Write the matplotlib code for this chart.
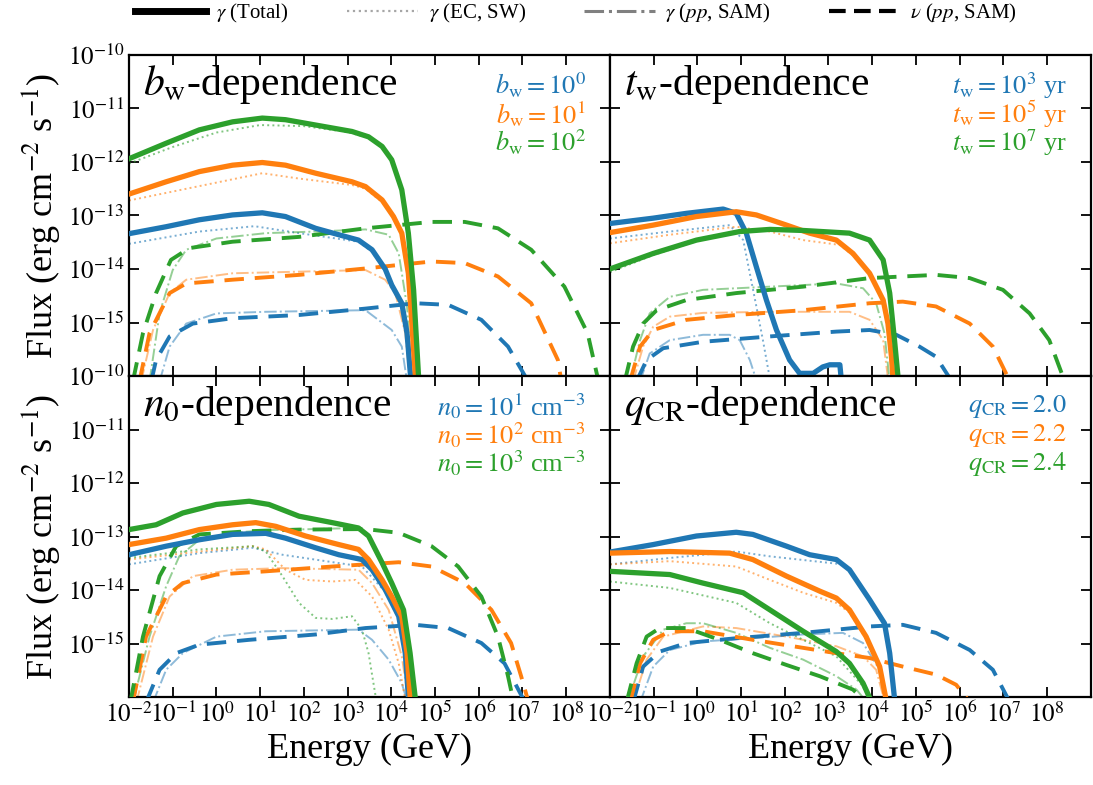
import numpy as np
import matplotlib
matplotlib.use("Agg")
import matplotlib.pyplot as plt
from matplotlib.lines import Line2D

plt.rcParams['font.family'] = ['Liberation Serif', 'DejaVu Serif']
plt.rcParams['mathtext.fontset'] = 'stix'

# curves stored as (log10 E [GeV], log10 flux [erg cm^-2 s^-1]); order: blue, orange, green
# ---- b_w panel
bw_total = [
    [(-2.0, -13.34), (-1.15, -13.21), (-0.39, -13.08), (0.37, -12.99), (1.05, -12.95), (1.58, -13.02), (2.27, -13.24), (2.8, -13.36), (3.25, -13.46), (3.56, -13.64), (3.86, -14.0), (4.01, -14.3), (4.24, -14.64), (4.36, -15.2), (4.45, -16.1)],
    [(-2.0, -12.6), (-1.15, -12.37), (-0.39, -12.18), (0.37, -12.06), (1.05, -12.01), (1.58, -12.06), (2.27, -12.21), (3.1, -12.37), (3.41, -12.46), (3.79, -12.71), (4.05, -13.02), (4.24, -13.33), (4.39, -14.08), (4.47, -15.02), (4.56, -16.1)],
    [(-2.0, -11.94), (-1.15, -11.65), (-0.39, -11.4), (0.37, -11.25), (1.05, -11.18), (1.58, -11.21), (2.27, -11.31), (3.1, -11.43), (3.48, -11.53), (3.79, -11.71), (4.01, -11.96), (4.24, -12.52), (4.39, -13.33), (4.51, -14.39), (4.63, -16.1)],
]
bw_ec = [
    [(-2.0, -13.53), (-0.39, -13.3), (0.87, -13.2), (1.89, -13.33), (3.25, -13.49), (3.56, -13.68), (3.86, -14.05), (4.24, -14.7), (4.36, -15.3), (4.44, -16.1)],
    [(-2.0, -12.72), (1.05, -12.21), (1.89, -12.31), (3.1, -12.43), (3.41, -12.5), (3.79, -12.75), (4.05, -13.05), (4.24, -13.36), (4.39, -14.1), (4.47, -15.05), (4.56, -16.1)],
    [(-2.0, -12.03), (-1.0, -11.72), (0.0, -11.45), (1.0, -11.31), (2.0, -11.33), (3.0, -11.44), (3.48, -11.55), (3.79, -11.73), (4.01, -11.98), (4.24, -12.55), (4.39, -13.36), (4.51, -14.42), (4.62, -16.1)],
]
bw_pp = [
    [(-1.3, -16.1), (-1.07, -15.45), (-0.69, -15.02), (0.0, -14.83), (1.13, -14.8), (3.41, -14.77), (4.01, -15.14), (4.24, -15.45), (4.36, -16.1)],
    [(-1.72, -16.1), (-1.45, -15.14), (-1.07, -14.45), (-0.69, -14.2), (0.37, -14.08), (1.89, -14.05), (3.41, -14.02), (3.86, -14.2), (4.09, -14.45), (4.32, -15.2), (4.43, -16.1)],
    [(-1.53, -16.1), (-1.3, -14.83), (-1.0, -14.02), (-0.69, -13.64), (0.0, -13.43), (1.13, -13.33), (2.27, -13.3), (3.41, -13.26), (3.94, -13.36), (4.17, -13.71), (4.36, -14.7), (4.47, -16.1)],
]
bw_nu = [
    [(-1.49, -16.1), (-1.38, -15.7), (-1.07, -15.26), (-0.54, -15.02), (0.37, -14.92), (1.89, -14.86), (3.41, -14.74), (4.55, -14.64), (5.3, -14.67), (6.06, -14.95), (6.67, -15.45), (7.13, -16.1)],
    [(-1.76, -16.1), (-1.53, -15.2), (-1.07, -14.45), (-0.69, -14.27), (0.37, -14.2), (1.89, -14.11), (3.41, -13.99), (4.92, -13.86), (5.68, -13.89), (6.44, -14.14), (7.2, -14.64), (7.81, -15.7), (7.89, -16.1)],
    [(-1.91, -16.1), (-1.68, -15.2), (-1.38, -14.45), (-1.04, -13.83), (-0.62, -13.61), (0.37, -13.49), (1.89, -13.4), (3.41, -13.24), (4.92, -13.12), (5.68, -13.12), (6.44, -13.24), (7.2, -13.64), (7.96, -14.33), (8.49, -15.2), (8.74, -16.1)],
]

# ---- t_w panel
tw_total = [
    [(-2.0, -13.15), (-1.01, -13.05), (-0.25, -12.96), (0.59, -12.88), (0.89, -12.96), (1.12, -13.33), (1.35, -13.96), (1.58, -14.58), (1.81, -15.14), (2.11, -15.7), (2.34, -15.95), (2.65, -15.95), (2.87, -15.83), (3.03, -15.79), (3.26, -15.79), (3.32, -16.3)],
    [(-2.0, -13.32), (-1.01, -13.18), (-0.02, -13.02), (0.89, -12.93), (1.35, -12.99), (2.04, -13.18), (2.57, -13.33), (3.18, -13.46), (3.56, -13.71), (3.94, -14.08), (4.25, -14.58), (4.36, -15.02), (4.44, -15.64), (4.48, -16.1)],
    [(-2.0, -14.0), (-1.01, -13.71), (-0.02, -13.46), (0.97, -13.3), (1.66, -13.26), (2.42, -13.28), (3.48, -13.33), (3.94, -13.46), (4.25, -13.83), (4.4, -14.45), (4.51, -15.33), (4.6, -16.1)],
]
tw_ec = [
    [(-2.0, -13.43), (-0.63, -13.3), (0.74, -13.18), (1.05, -13.46), (1.2, -14.08), (1.35, -14.7), (1.5, -15.33), (1.67, -16.1)],
    [(-2.0, -13.52), (-0.63, -13.36), (0.89, -13.21), (1.66, -13.3), (2.42, -13.46), (3.26, -13.55), (3.56, -13.75), (3.94, -14.1), (4.25, -14.6), (4.36, -15.05), (4.44, -15.66), (4.48, -16.1)],
    [(-2.0, -14.06), (-1.01, -13.74), (-0.02, -13.48), (0.97, -13.31), (1.66, -13.27), (2.42, -13.29), (3.48, -13.34), (3.94, -13.47), (4.25, -13.84), (4.4, -14.46), (4.51, -15.34), (4.6, -16.1)],
]
tw_pp = [
    [(-1.31, -16.1), (-1.09, -15.58), (-0.63, -15.33), (0.13, -15.23), (0.74, -15.23), (0.97, -15.33), (1.2, -15.7), (1.36, -16.1)],
    [(-1.47, -16.1), (-1.24, -15.45), (-1.01, -15.08), (-0.63, -14.89), (0.13, -14.82), (1.66, -14.8), (3.48, -14.8), (3.94, -14.95), (4.25, -15.33), (4.37, -16.1)],
    [(-1.54, -16.1), (-1.31, -15.33), (-1.09, -14.83), (-0.63, -14.52), (0.13, -14.39), (1.66, -14.33), (3.18, -14.27), (3.79, -14.36), (4.09, -14.64), (4.28, -15.2), (4.4, -16.1)],
]
tw_nu = [
    [(-1.39, -16.1), (-1.16, -15.7), (-0.78, -15.48), (0.13, -15.36), (1.66, -15.26), (3.18, -15.17), (3.94, -15.14), (4.55, -15.23), (5.08, -15.45), (5.46, -15.64), (5.82, -16.1)],
    [(-1.54, -16.1), (-1.31, -15.45), (-1.01, -15.14), (-0.25, -14.95), (0.89, -14.86), (2.42, -14.77), (3.94, -14.64), (4.7, -14.61), (5.46, -14.7), (6.23, -15.02), (6.76, -15.45), (7.15, -16.1)],
    [(-1.66, -16.1), (-1.47, -15.45), (-1.24, -15.02), (-0.93, -14.77), (-0.25, -14.58), (0.89, -14.45), (2.42, -14.33), (3.94, -14.17), (5.46, -14.11), (6.23, -14.17), (6.99, -14.39), (7.6, -14.83), (8.05, -15.33), (8.38, -16.05)],
]

# ---- n_0 panel
n0_total = [
    [(-2.0, -13.34), (-1.15, -13.18), (-0.39, -13.06), (0.37, -12.96), (1.13, -12.94), (1.58, -13.03), (2.27, -13.21), (2.8, -13.34), (3.33, -13.43), (3.56, -13.62), (3.86, -13.99), (4.17, -14.49), (4.32, -15.18), (4.4, -16.1)],
    [(-2.0, -13.15), (-1.15, -13.03), (-0.39, -12.87), (0.37, -12.78), (0.9, -12.74), (1.36, -12.81), (2.04, -12.99), (2.8, -13.15), (3.25, -13.24), (3.48, -13.43), (3.79, -13.81), (4.01, -14.12), (4.24, -14.49), (4.36, -15.18), (4.44, -16.1)],
    [(-2.0, -12.87), (-1.38, -12.78), (-0.77, -12.56), (0.0, -12.4), (0.75, -12.34), (1.2, -12.4), (1.89, -12.62), (2.65, -12.74), (3.25, -12.84), (3.48, -12.99), (3.79, -13.49), (4.01, -13.87), (4.28, -14.37), (4.43, -15.18), (4.56, -16.1)],
]
n0_ec = [
    [(-2.0, -13.52), (-0.39, -13.31), (0.83, -13.21), (1.51, -13.34), (3.33, -13.56), (3.86, -14.03), (4.17, -14.55), (4.32, -15.3), (4.39, -16.1)],
    [(-2.0, -13.43), (-0.39, -13.28), (0.83, -13.18), (1.13, -13.24), (1.58, -13.62), (2.04, -13.81), (2.65, -13.84), (3.18, -13.81), (3.56, -14.12), (3.94, -14.74), (4.17, -15.37), (4.33, -16.1)],
    [(-2.0, -13.4), (-0.39, -13.24), (0.83, -13.18), (1.13, -13.28), (1.51, -13.74), (1.89, -14.24), (2.27, -14.52), (2.65, -14.54), (3.1, -14.49), (3.33, -14.74), (3.48, -15.18), (3.63, -15.93), (3.67, -16.1)],
]
n0_pp = [
    [(-1.45, -16.1), (-1.15, -15.49), (-0.77, -15.18), (0.0, -14.87), (1.13, -14.77), (3.25, -14.74), (3.56, -14.93), (3.94, -15.3), (4.24, -15.74), (4.37, -16.1)],
    [(-1.83, -16.1), (-1.45, -14.87), (-1.07, -14.12), (-0.54, -13.74), (0.37, -13.62), (1.51, -13.59), (3.25, -13.62), (3.56, -13.87), (3.94, -14.37), (4.24, -15.24), (4.4, -16.1)],
    [(-1.91, -16.1), (-1.53, -14.87), (-1.15, -13.93), (-0.85, -13.37), (-0.39, -13.06), (0.37, -12.93), (1.13, -12.88), (2.27, -12.86), (3.18, -12.84), (3.48, -12.99), (3.79, -13.5), (4.17, -14.24), (4.39, -15.49), (4.52, -16.1)],
]
n0_nu = [
    [(-1.61, -16.1), (-1.3, -15.49), (-0.92, -15.18), (-0.39, -15.02), (0.75, -14.93), (2.27, -14.83), (3.41, -14.71), (4.55, -14.65), (5.3, -14.71), (6.06, -14.99), (6.59, -15.37), (7.06, -16.1)],
    [(-1.91, -16.1), (-1.61, -14.87), (-1.15, -14.12), (-0.77, -13.87), (0.0, -13.71), (1.13, -13.65), (2.65, -13.56), (4.17, -13.48), (4.92, -13.56), (5.68, -13.87), (6.29, -14.37), (6.74, -14.99), (6.97, -15.61), (7.14, -16.1)],
    [(-1.97, -16.1), (-1.68, -14.87), (-1.3, -13.74), (-0.92, -13.18), (-0.39, -12.96), (0.75, -12.9), (1.89, -12.87), (3.41, -12.86), (4.17, -12.93), (4.92, -13.18), (5.53, -13.56), (6.06, -14.12), (6.44, -14.87), (6.67, -15.61), (6.8, -16.1)],
]

# ---- q_CR panel
q_total = [
    [(-2.0, -13.29), (-1.01, -13.15), (-0.02, -12.99), (0.89, -12.92), (1.27, -12.96), (2.04, -13.18), (2.57, -13.34), (3.18, -13.43), (3.48, -13.62), (3.94, -14.18), (4.28, -14.62), (4.4, -15.18), (4.52, -16.1)],
    [(-2.0, -13.31), (-0.63, -13.28), (0.74, -13.31), (1.27, -13.43), (2.04, -13.74), (2.8, -14.02), (3.18, -14.15), (3.48, -14.37), (3.86, -14.87), (4.17, -15.43), (4.33, -16.1)],
    [(-2.0, -13.65), (-0.63, -13.71), (0.13, -13.87), (1.05, -14.05), (1.66, -14.37), (2.42, -14.77), (3.18, -15.15), (3.48, -15.37), (3.79, -15.74), (3.99, -16.1)],
]
q_ec = [
    [(-2.0, -13.52), (-0.63, -13.4), (0.89, -13.28), (1.66, -13.37), (3.33, -13.52), (3.56, -13.7), (3.94, -14.22), (4.28, -14.66), (4.4, -15.22), (4.51, -16.1)],
    [(-2.0, -13.52), (-0.63, -13.46), (0.89, -13.56), (1.66, -13.81), (2.42, -14.05), (3.18, -14.24), (3.48, -14.42), (3.86, -14.92), (4.17, -15.47), (4.32, -16.1)],
    [(-2.0, -13.84), (-0.63, -13.96), (0.89, -14.24), (1.66, -14.62), (2.42, -14.93), (3.18, -15.24), (3.79, -15.8), (3.95, -16.1)],
]
q_pp = [
    [(-1.31, -16.1), (-1.01, -15.43), (-0.63, -15.12), (0.13, -14.96), (1.27, -14.9), (2.42, -14.83), (3.33, -14.8), (3.79, -14.99), (4.17, -15.49), (4.33, -16.1)],
    [(-1.47, -16.1), (-1.16, -15.3), (-0.78, -14.87), (0.13, -14.68), (0.89, -14.71), (2.04, -14.87), (3.18, -15.05), (3.79, -15.24), (4.09, -15.49), (4.29, -16.1)],
    [(-1.6, -16.1), (-1.24, -15.24), (-0.78, -14.74), (-0.25, -14.62), (0.13, -14.62), (0.89, -14.8), (1.66, -15.08), (2.42, -15.3), (3.18, -15.61), (3.64, -15.86), (3.88, -16.1)],
]
q_nu = [
    [(-1.47, -16.1), (-1.24, -15.43), (-0.86, -15.15), (-0.25, -14.99), (0.89, -14.9), (2.42, -14.8), (3.94, -14.68), (4.7, -14.65), (5.46, -14.8), (6.23, -15.12), (6.76, -15.49), (7.15, -16.1)],
    [(-1.54, -16.1), (-1.31, -15.37), (-1.01, -14.93), (-0.63, -14.77), (0.13, -14.77), (1.27, -14.93), (2.42, -15.08), (3.18, -15.18), (3.94, -15.27), (4.7, -15.43), (5.46, -15.58), (5.92, -15.77), (6.24, -16.1)],
    [(-1.62, -16.1), (-1.39, -15.37), (-1.16, -14.87), (-0.86, -14.71), (-0.25, -14.71), (0.51, -14.93), (1.27, -15.18), (2.04, -15.4), (2.8, -15.61), (3.56, -15.86), (3.87, -16.1)],
]

titles = [r'$b_{\rm w}$-dependence', r'$t_{\rm w}$-dependence',
          r'$n_0$-dependence', r'$q_{\rm CR}$-dependence']
param_labels = [
    [r'$b_{\rm w} = 10^0$', r'$b_{\rm w} = 10^1$', r'$b_{\rm w} = 10^2$'],
    [r'$t_{\rm w} = 10^3$ yr', r'$t_{\rm w} = 10^5$ yr', r'$t_{\rm w} = 10^7$ yr'],
    [r'$n_0 = 10^1$ cm$^{-3}$', r'$n_0 = 10^2$ cm$^{-3}$', r'$n_0 = 10^3$ cm$^{-3}$'],
    [r'$q_{\rm CR} = 2.0$', r'$q_{\rm CR} = 2.2$', r'$q_{\rm CR} = 2.4$'],
]
panels = [(bw_total, bw_ec, bw_pp, bw_nu), (tw_total, tw_ec, tw_pp, tw_nu),
          (n0_total, n0_ec, n0_pp, n0_nu), (q_total, q_ec, q_pp, q_nu)]
colors = ['#1f77b4', '#ff7f0e', '#2ca02c']


def xy(pts):
    a = np.array(pts)
    return 10 ** a[:, 0], 10 ** a[:, 1]


fig, axes = plt.subplots(2, 2, figsize=(10.93, 7.85), dpi=100, sharex=True, sharey=True)
fig.subplots_adjust(left=0.118, right=0.998, top=0.930, bottom=0.112, wspace=0, hspace=0)

for i, ax in enumerate(axes.flat):
    tot, ec, pp, nu = panels[i]
    for j, c in enumerate(colors):
        ax.plot(*xy(ec[j]), ls=':', lw=1.4, color=c, alpha=0.6, zorder=2)
        ax.plot(*xy(pp[j]), ls='-.', lw=1.4, color=c, alpha=0.5, zorder=2)
        ax.plot(*xy(nu[j]), ls=(0, (5, 2.8)), lw=2.8, color=c, zorder=3)
        ax.plot(*xy(tot[j]), ls='-', lw=3.8, color=c, zorder=4)
    ax.set_xscale('log')
    ax.set_yscale('log')
    ax.set_xlim(1e-2, 1e9)
    ax.set_ylim(1e-16, 1e-10)
    ax.text(0.03, 0.975, titles[i], transform=ax.transAxes, ha='left', va='top', fontsize=30)
    for j, c in enumerate(colors):
        ax.text(0.95, 0.905 - 0.089 * j, param_labels[i][j], transform=ax.transAxes,
                ha='right', va='center', fontsize=19, color=c)
    ax.tick_params(which='major', direction='in', top=True, right=True,
                   length=7, width=1.3, labelsize=18)
    ax.tick_params(which='minor', bottom=False, top=False, left=False, right=False)
    for s in ax.spines.values():
        s.set_linewidth(1.6)

xt = 10.0 ** np.arange(-2, 10)
yt = 10.0 ** np.arange(-16, -9)
for ax in axes.flat:
    ax.set_xticks(xt)
    ax.set_xticklabels([r'$10^{%d}$' % k for k in range(-2, 9)] + [''])
    ax.set_yticks(yt)
    ax.set_yticklabels([''] + [r'$10^{%d}$' % k for k in range(-15, -9)])

for ax in axes[1]:
    ax.set_xlabel('Energy (GeV)', fontsize=26)
for ax in axes[:, 0]:
    ax.set_ylabel(r'Flux (erg cm$^{-2}$ s$^{-1}$)', fontsize=26)

handles = [Line2D([], [], color='k', lw=5),
           Line2D([], [], color='gray', lw=1.6, ls=':', alpha=0.7),
           Line2D([], [], color='gray', lw=2.2, ls='-.'),
           Line2D([], [], color='k', lw=3, ls=(0, (4, 2)))]
labels = [r'$\gamma$ (Total)', r'$\gamma$ (EC, SW)', r'$\gamma$ ($pp$, SAM)', r'$\nu$ ($pp$, SAM)']
fig.legend(handles, labels, loc='center', bbox_to_anchor=(0.527, 0.983), ncol=4,
           frameon=False, fontsize=15, handlelength=3.4, handletextpad=0.5, columnspacing=2.8)

fig.savefig('out.png', dpi=100)
